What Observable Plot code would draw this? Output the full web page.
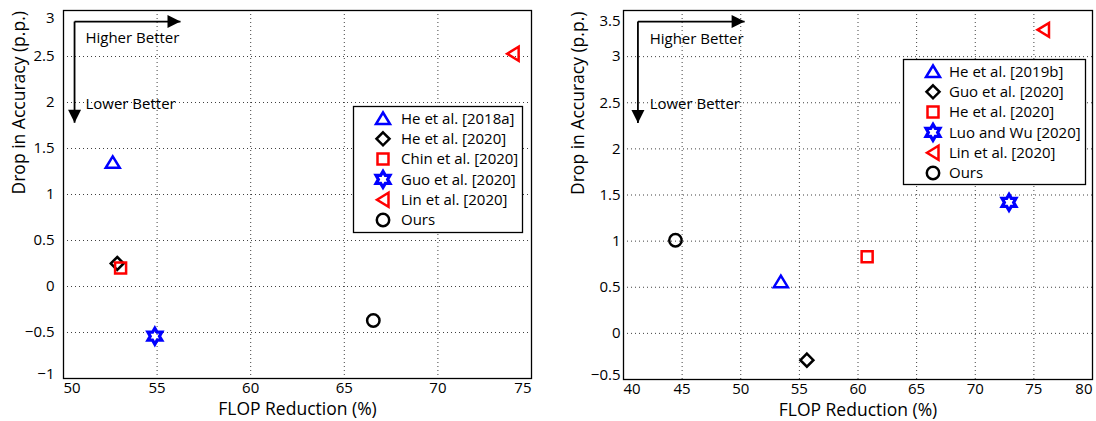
<!DOCTYPE html>
<html><head><meta charset="utf-8">
<script src="https://cdn.jsdelivr.net/npm/d3@7"></script>
<script src="https://cdn.jsdelivr.net/npm/@observablehq/plot@0.6"></script>
<style>
body{margin:0;background:#fff;}
#fig{position:relative;width:1096px;height:421px;font-family:"Open Sans",sans-serif;}
.panel{position:absolute;top:0;}
.panel svg{overflow:visible;}
</style></head><body><div id="fig"></div>
<script>
// ---------- data: left panel ----------
const methodsL = ["He et al. [2018a]", "He et al. [2020]", "Chin et al. [2020]", "Guo et al. [2020]", "Lin et al. [2020]", "Ours"];
const flopL = [52.63, 52.87, 53.05, 54.88, 74.02, 66.55];
const dropL = [1.35, 0.25, 0.20, -0.54, 2.53, -0.37];
const xTicksL = [50, 55, 60, 65, 70, 75];
const yTicksL = [-1, -0.5, 0, 0.5, 1, 1.5, 2, 2.5, 3];

// ---------- data: right panel ----------
const methodsR = ["He et al. [2019b]", "Guo et al. [2020]", "He et al. [2020]", "Luo and Wu [2020]", "Lin et al. [2020]", "Ours"];
const flopR = [53.42, 55.64, 60.78, 72.88, 75.82, 44.43];
const dropR = [0.56, -0.29, 0.83, 1.42, 3.29, 1.01];
const xTicksR = [40, 45, 50, 55, 60, 65, 70, 75, 80];
const yTicksR = [-0.5, 0, 0.5, 1, 1.5, 2, 2.5, 3, 3.5];

// ---------- labels ----------
const xLabel = "FLOP Reduction (%)";
const yLabel = "Drop in Accuracy (p.p.)";
const annTexts = ["Higher Better", "Lower Better"];
// annotation anchors (data coords)
const annL = {corner: [50.59, 2.88], rightTip: 56.25, downTip: 1.78, textX: 51.17, textY: [2.697, 1.986]};
const annR = {corner: [41.23, 3.38], rightTip: 50.33, downTip: 2.28, textX: 42.23, textY: [3.19, 2.48]};

// ---------- marker styles ----------
const markerL = [["triangle-up", "#0000ff"], ["diamond", "#000"], ["square", "#ff0000"], ["hexagram", "#0000ff"], ["triangle-left", "#ff0000"], ["circle", "#000"]];
const markerR = [["triangle-up", "#0000ff"], ["diamond", "#000"], ["square", "#ff0000"], ["hexagram", "#0000ff"], ["triangle-left", "#ff0000"], ["circle", "#000"]];

const shape = pts => ({draw(ctx) { ctx.moveTo(pts[0][0], pts[0][1]); for (const p of pts.slice(1)) ctx.lineTo(p[0], p[1]); ctx.closePath(); }});
const hexPts = (() => { const pts = []; const R = 8, r = R / Math.sqrt(3); for (let k = 0; k < 12; k++) { const a = -Math.PI / 2 + k * Math.PI / 6; const rr = k % 2 ? r : R; pts.push([rr * Math.cos(a), rr * Math.sin(a)]); } return pts; })();
const SYM = {
  "triangle-up": shape([[0, -6], [7, 5.5], [-7, 5.5]]),
  "triangle-left": shape([[-6, 0], [5.5, -7], [5.5, 7]]),
  "diamond": shape([[0, -6.5], [6.5, 0], [0, 6.5], [-6.5, 0]]),
  "square": shape([[-5.5, -5.5], [5.5, -5.5], [5.5, 5.5], [-5.5, 5.5]]),
  "circle": {draw(ctx) { ctx.moveTo(6.2, 0); ctx.arc(0, 0, 6.2, 0, 2 * Math.PI); }},
  "hexagram": shape(hexPts),
  "head-right": shape([[6.5, 0], [-6.5, -6.5], [-6.5, 6.5]]),
  "head-down": shape([[0, 6.5], [-6.5, -6.5], [6.5, -6.5]])
};
const SW = s => (s === "hexagram" ? 3.2 : 2.5);

const FONT = '"Open Sans", sans-serif';
const fmt = d => (d < 0 ? "\u2212" : "") + String(Math.abs(d));

function panel(opts) {
  const rows = opts.methods.map((m, i) => ({method: m, flop: opts.flop[i], drop: opts.drop[i], symbol: opts.marker[i][0], color: opts.marker[i][1]}));
  const xt = opts.xTicks, yt = opts.yTicks;
  const a = opts.ann;
  const links = [
    {x1: a.corner[0], y1: a.corner[1], x2: a.rightTip, y2: a.corner[1]},
    {x1: a.corner[0], y1: a.corner[1], x2: a.corner[0], y2: a.downTip}
  ];
  const texts = annTexts.map((t, i) => ({t, x: a.textX, y: a.textY[i]}));
  const ax = {tickSize: 0, tickPadding: 4, fontSize: 15, label: null, tickFormat: fmt};
  const ay = {tickSize: 0, tickPadding: opts.ypad, fontSize: 15, label: null, tickFormat: fmt};
  const plot = Plot.plot({
    width: opts.width, height: 421,
    marginLeft: opts.ml, marginRight: opts.mr, marginTop: 10, marginBottom: opts.mb,
    style: {fontFamily: FONT, fontSize: "15px", color: "#000", background: "transparent", overflow: "visible"},
    x: {domain: [xt[0], xt[xt.length - 1]], label: null},
    y: {domain: [yt[0], yt[yt.length - 1]], label: null},
    marks: [
      Plot.gridX(xt, {stroke: "#000", strokeOpacity: 0.75, strokeDasharray: "1,3"}),
      Plot.gridY(yt, {stroke: "#000", strokeOpacity: 0.75, strokeDasharray: "1,3"}),
      Plot.axisX(xt.slice(1, -1), ax),
      Plot.axisX([xt[0]], {...ax, textAnchor: "start"}),
      Plot.axisX([xt[xt.length - 1]], {...ax, textAnchor: "end"}),
      Plot.axisY(yt.slice(1, -1), ay),
      Plot.axisY([yt[0]], {...ay, lineAnchor: "bottom"}),
      Plot.axisY([yt[yt.length - 1]], {...ay, lineAnchor: "top", dy: opts.topDy}),
      Plot.text([xLabel], {frameAnchor: "bottom", text: d => d, dy: 31, fontSize: 17.5, lineAnchor: "middle"}),
      Plot.text([yLabel], {frameAnchor: "left", text: d => d, dx: opts.ylabDx, rotate: -90, fontSize: 17.5, lineAnchor: "middle"}),
      // annotation arrows
      Plot.link(links, {x1: "x1", y1: "y1", x2: "x2", y2: "y2", stroke: "#000", strokeWidth: 1.8}),
      Plot.dot([links[0]], {x: "x2", y: "y2", symbol: SYM["head-right"], fill: "#000", stroke: "none", dx: -6.5, r: 7}),
      Plot.dot([links[1]], {x: "x2", y: "y2", symbol: SYM["head-down"], fill: "#000", stroke: "none", dy: -6.5, r: 7}),
      Plot.text(texts, {x: "x", y: "y", text: "t", textAnchor: "start", fontSize: 15, lineAnchor: "middle"}),
      // data markers
      ...rows.map(r => Plot.dot([r], {x: "flop", y: "drop", symbol: SYM[r.symbol], stroke: r.color, fill: "none", strokeWidth: SW(r.symbol), strokeLinejoin: "miter", r: 7})),
      Plot.frame({stroke: "#000", strokeWidth: 1.3})
    ]
  });
  const div = document.createElement("div");
  div.className = "panel";
  div.style.left = opts.left + "px";
  div.appendChild(plot);
  document.getElementById("fig").appendChild(div);

  // legend box
  const L = opts.legend;
  const svg = d3.select("#fig").append("svg")
    .style("position", "absolute").style("left", L.left + "px").style("top", L.top + "px")
    .attr("width", L.w).attr("height", L.h).style("overflow", "visible")
    .style("font-family", FONT).style("font-size", "15px");
  svg.append("rect").attr("x", 0.5).attr("y", 0.5).attr("width", L.w - 1).attr("height", L.h - 1)
    .attr("fill", "#fff").attr("stroke", "#000").attr("stroke-width", 1.3);
  rows.forEach((r, i) => {
    const cy = L.first + i * L.step;
    svg.append("path").attr("d", d3.symbol(SYM[r.symbol])())
      .attr("transform", `translate(${L.mx},${cy})`)
      .attr("fill", "none").attr("stroke", r.color).attr("stroke-width", SW(r.symbol)).attr("stroke-linejoin", "miter");
    svg.append("text").attr("x", L.tx).attr("y", cy).attr("dy", "0.35em").attr("fill", "#000").text(r.method);
  });
}

panel({methods: methodsL, flop: flopL, drop: dropL, marker: markerL, xTicks: xTicksL, yTicks: yTicksL, ann: annL,
  width: 548, left: 0, ml: 63, mr: 17, mb: 43, ypad: 9, topDy: 2, ylabDx: -44,
  legend: {left: 353, top: 106, w: 170, h: 127, first: 12.5, step: 20.3, mx: 30, tx: 48}});
panel({methods: methodsR, flop: flopR, drop: dropR, marker: markerR, xTicks: xTicksR, yTicks: yTicksR, ann: annR,
  width: 548, left: 548, ml: 75, mr: 4, mb: 42, ypad: 3, topDy: 5, ylabDx: -45,
  legend: {left: 903, top: 59, w: 183, h: 126, first: 12.5, step: 20.3, mx: 30, tx: 46}});
</script></body></html>
